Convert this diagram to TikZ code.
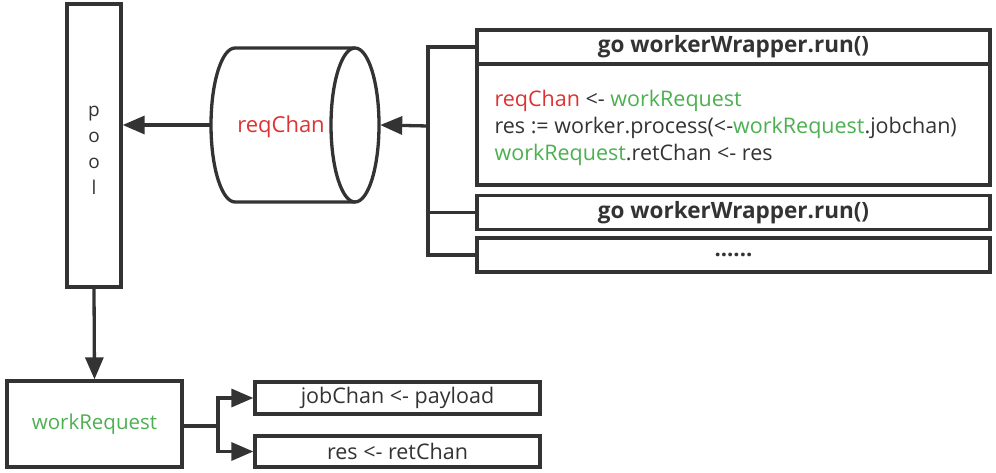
\documentclass[tikz,border=0pt]{standalone}
\usepackage{fontspec}
\setmainfont{Open Sans}
\usetikzlibrary{arrows.meta}
\definecolor{linegray}{HTML}{333333}
\definecolor{chanred}{HTML}{DD3333}
\definecolor{reqgreen}{HTML}{4CB050}
\begin{document}
\begin{tikzpicture}[x=1pt,y=-1pt]
        \tikzset{box node/.style={rectangle,draw=linegray,line width=3.3pt,fill=none,inner sep=0pt},
          arr/.style={draw=linegray,line width=3.3pt,-{Triangle[length=22pt,width=18pt]}},
          wire/.style={draw=linegray,line width=3.3pt}}
        \useasboundingbox (0,0) rectangle (996,473);
        % pool and channel
        \node[box node,minimum width=54pt,minimum height=283pt] (pool) at (94,145.5) {};
        \node[font=\fontsize{19}{26}\selectfont,align=center,text=linegray] (poolname) at (94,150) {p\\o\\o\\l};
        \node[minimum width=169pt,minimum height=154pt,inner sep=0pt] (chan) at (295.5,125) {};
        \draw[wire] (355,48) -- (235,48) arc[start angle=270,end angle=90,x radius=24,y radius=77] -- (355,202);
        \draw[wire] (355,125) ellipse[x radius=24,y radius=77];
        \node[text=chanred,font=\fontsize{22}{26}\selectfont] (channame) at (281,127) {reqChan};
        % workers
        \node[box node,minimum width=513pt,minimum height=34pt,font=\bfseries\fontsize{22.5}{24}\selectfont,text=linegray] (run1head) at (733.5,47) {go workerWrapper.run()};
        \node[box node,minimum width=513pt,minimum height=121pt] (run1body) at (733.5,124.5) {};
        \node[anchor=west,align=left,font=\fontsize{21.5}{27}\selectfont,text=linegray] (run1text) at (491,128) {%
          \textcolor{chanred}{reqChan} <- \textcolor{reqgreen}{workRequest}\\
          res := worker.process(<-\textcolor{reqgreen}{workRequest}.jobchan)\\
          \textcolor{reqgreen}{workRequest}.retChan <- res};
        \node[box node,minimum width=513pt,minimum height=34pt,font=\bfseries\fontsize{22.5}{24}\selectfont,text=linegray] (run2) at (733.5,212.5) {go workerWrapper.run()};
        \node[box node,minimum width=513pt,minimum height=34pt,font=\bfseries\fontsize{22}{24}\selectfont,text=linegray] (run3) at (733.5,255) {......};
        \coordinate (fork) at (428,126);
        \draw[wire] (run1head.west) -| (fork);
        \draw[wire] (run3.west) -| (fork);
        \draw[wire] (run2.west) -- (run2.west -| fork);
        \draw[arr] (fork) -- (chan.east);
        \draw[arr] (chan.west) -- (chan.west -| pool.east);
        % request
        \node[box node,minimum width=175pt,minimum height=86pt,text=reqgreen,font=\fontsize{20.5}{24}\selectfont] (req) at (94.5,424) {workRequest};
        \node[box node,minimum width=285pt,minimum height=32pt,text=linegray,font=\fontsize{21.5}{24}\selectfont] (job) at (397.5,398) {jobChan <- payload};
        \node[box node,minimum width=285pt,minimum height=31pt,text=linegray,font=\fontsize{21.5}{24}\selectfont] (ret) at (397.5,451.5) {res <- retChan};
        \coordinate (split) at (218,426);
        \draw[arr] (pool.south) -- (req.north);
        \draw[wire] (req.east |- split) -- (split);
        \draw[arr] (split) |- (job.west);
        \draw[arr] (split) |- (ret.west);
      \end{tikzpicture}
\end{document}
